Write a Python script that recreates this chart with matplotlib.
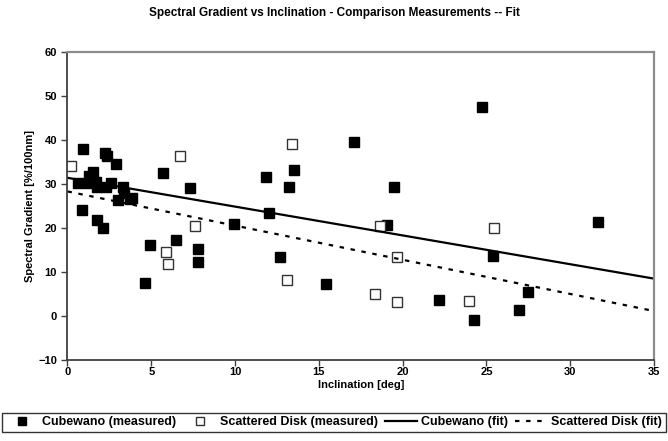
"""Spectral gradient vs inclination: measured points and linear fits."""

import matplotlib

matplotlib.use("Agg")
import matplotlib.pyplot as plt
import numpy as np

plt.rcParams["font.family"] = ["Liberation Sans", "DejaVu Sans"]
plt.rcParams["font.weight"] = "bold"

# Cubewano (measured)
cube_incl = [0.92, 2.22, 2.37, 2.91, 1.52, 1.28, 0.63, 1.68, 1.78, 2.28, 2.61,
             3.33, 3.37, 3.01, 3.73, 1.22, 0.85, 1.74, 2.14, 4.92, 6.47, 4.62,
             5.71, 7.30, 3.83, 7.80, 7.80, 9.93, 11.82, 12.0, 12.69, 13.2,
             13.5, 15.4, 17.08, 19.07, 19.47, 22.17, 24.26, 24.76, 25.37,
             26.96, 27.46, 31.65]
cube_grad = [37.9, 37.1, 36.4, 34.5, 32.7, 31.7, 30.2, 30.5, 29.2, 29.2, 30.3,
             29.4, 27.9, 26.4, 26.6, 30.2, 24.0, 21.8, 19.9, 16.1, 17.2, 7.4,
             32.4, 29.0, 26.7, 15.1, 12.3, 20.8, 31.5, 23.5, 13.4, 29.2,
             33.2, 7.2, 39.6, 20.7, 29.4, 3.6, -1.0, 47.5, 13.6,
             1.3, 5.5, 21.3]

# Scattered Disk (measured)
sd_incl = [0.23, 5.90, 5.98, 6.71, 7.64, 13.1, 13.4, 18.38, 18.63, 19.67,
           19.69, 23.96, 25.45]
sd_grad = [34.1, 14.5, 11.9, 36.4, 20.5, 8.1, 39.1, 4.9, 20.5, 13.4,
           3.1, 3.4, 19.9]

# linear fits (intercept, slope) as drawn in the reference
cube_fit = (31.4, -0.655)
sd_fit = (28.3, -0.777)

fit_x = np.array([0.0, 35.0])

fig = plt.figure(figsize=(6.68, 4.41), dpi=100)
ax = fig.add_axes([0.101, 0.184, 0.878, 0.698])

ax.plot(cube_incl, cube_grad, linestyle="none", marker="s", markersize=6.8,
        color="black", label="Cubewano (measured)")
ax.plot(sd_incl, sd_grad, linestyle="none", marker="s", markersize=6.8,
        markerfacecolor="white", markeredgecolor="#333333", markeredgewidth=1.0,
        label="Scattered Disk (measured)")
ax.plot(fit_x, cube_fit[0] + cube_fit[1] * fit_x, color="black", linewidth=1.6,
        label="Cubewano (fit)")
ax.plot(fit_x, sd_fit[0] + sd_fit[1] * fit_x, color="black", linewidth=1.6,
        linestyle=(0, (2, 3)), label="Scattered Disk (fit)")

ax.set_xlim(0, 35)
ax.set_ylim(-10, 60)
ax.set_xticks(range(0, 36, 5))
ax.set_yticks(range(-10, 61, 10))
ax.tick_params(axis="both", labelsize=8, length=4, width=1, direction="out",
               color="#404040")
ax.tick_params(axis="x", pad=1)

for side in ("left", "bottom"):
    ax.spines[side].set_color("#404040")
    ax.spines[side].set_linewidth(1.3)
for side in ("top", "right"):
    ax.spines[side].set_color("#8c8c8c")
    ax.spines[side].set_linewidth(1.6)

ax.set_xlabel("Inclination [deg]", fontsize=8, fontweight="bold", labelpad=2)
ax.set_ylabel("Spectral Gradient [%/100nm]", fontsize=8, fontweight="bold",
              labelpad=2)
fig.suptitle("Spectral Gradient vs Inclination - Comparison Measurements -- Fit",
             fontsize=8.5, fontweight="bold", y=0.985)

leg = fig.legend(loc="lower left", bbox_to_anchor=(0.003, 0.02, 0.994, 0.048),
                 mode="expand", ncol=4, fontsize=9, frameon=True,
                 fancybox=False, borderaxespad=0, handlelength=2.6,
                 handletextpad=0.3, columnspacing=0.4, borderpad=0.3,
                 markerscale=0.9)
leg.get_frame().set_edgecolor("black")
leg.get_frame().set_linewidth(1.0)

fig.savefig("out.png", dpi=100)
